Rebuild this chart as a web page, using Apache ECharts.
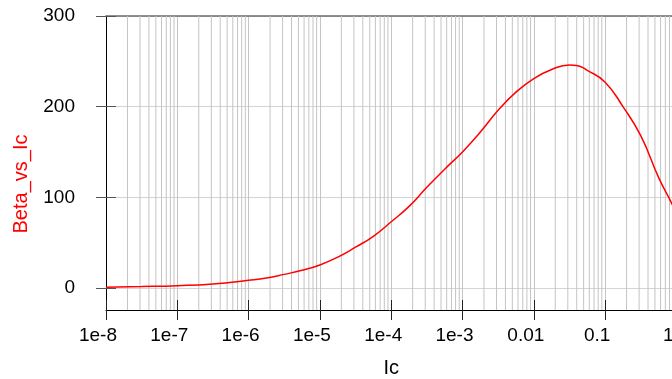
<!DOCTYPE html>
<html>
<head>
<meta charset="utf-8">
<script src="https://cdn.jsdelivr.net/npm/echarts@6/dist/echarts.min.js"></script>
<style>
html,body{margin:0;padding:0;background:#fff;}
#chart{width:672px;height:379px;}
</style>
</head>
<body>
<div id="chart"></div>
<script>
// Collector current Ic (A)
var icValues = [1e-8, 3.16e-8, 1e-7, 3.16e-7, 1e-6, 1.78e-6, 3.16e-6, 5.62e-6, 1e-5, 1.78e-5, 3.16e-5, 5.62e-5, 1e-4, 1.78e-4, 3.16e-4, 5.62e-4, 1e-3, 1.78e-3, 3.16e-3, 5.62e-3, 1e-2, 1.78e-2, 3.16e-2, 3.98e-2, 5.62e-2, 0.1, 0.178, 0.316, 0.562, 0.86, 1];
// Beta values
var betaValues = [0.8, 1.5, 2.5, 4.5, 8.5, 11, 15, 19.5, 25.4, 34, 45, 57, 73, 90, 111, 131, 150, 172, 196, 216, 231, 241, 246, 245.5, 240, 227, 200, 168, 122, 93.4, 83];
var xTickLabels = ['1e-8', '1e-7', '1e-6', '1e-5', '1e-4', '1e-3', '0.01', '0.1', '1'];
var yTickValues = [0, 100, 200, 300];
var xName = 'Ic';
var yName = 'Beta_vs_Ic';
var yMin = -24.3, yMax = 300;

var minorGrid = [];
for (var e = -8; e < 0; e++) {
  for (var k = 2; k <= 9; k++) {
    minorGrid.push([k * Math.pow(10, e)]);
  }
}

var font = '"Liberation Sans", Arial, Helvetica, sans-serif';
var chart = echarts.init(document.getElementById('chart'), null, { renderer: 'canvas' });
chart.setOption({
  animation: false,
  backgroundColor: '#ffffff',
  grid: { left: 106, top: 16, width: 570.4, height: 294, containLabel: false, outerBoundsMode: 'none' },
  xAxis: [
    {
      type: 'log', logBase: 10, min: 1e-8, max: 1, position: 'bottom',
      name: xName, nameLocation: 'middle', nameGap: 48,
      nameTextStyle: { fontSize: 20, color: '#000', fontFamily: font },
      axisLine: { show: true, onZero: false, lineStyle: { color: '#000', width: 1 } },
      axisTick: { show: true, inside: false, length: 10, lineStyle: { color: '#222' } },
      axisLabel: {
        fontSize: 19, color: '#000', fontFamily: font, margin: 16, padding: [0, 16, 0, 0],
        showMinLabel: true, showMaxLabel: true,
        formatter: function (v) {
          var i = Math.round(Math.log(v) / Math.LN10) + 8;
          return xTickLabels[i] !== undefined ? xTickLabels[i] : '';
        }
      },
      splitLine: { show: true, lineStyle: { color: '#c4c4c4', width: 1 } }
    },
    {
      type: 'log', logBase: 10, min: 1e-8, max: 1, position: 'bottom',
      axisLine: { show: false, onZero: false },
      axisTick: { show: true, inside: true, length: 10, lineStyle: { color: '#222' } },
      axisLabel: { show: false },
      splitLine: { show: false }
    },
    {
      type: 'log', logBase: 10, min: 1e-8, max: 1, position: 'top',
      axisLine: { show: true, onZero: false, lineStyle: { color: '#6e6e6e', width: 1.5 } },
      axisTick: { show: false },
      axisLabel: { show: false },
      splitLine: { show: false }
    }
  ],
  yAxis: [
    {
      type: 'value', min: yMin, max: yMax, position: 'left',
      axisLine: { show: true, onZero: false, lineStyle: { color: '#000', width: 1 } },
      axisTick: { show: true, inside: false, length: 10, customValues: yTickValues, lineStyle: { color: '#555' } },
      axisLabel: { fontSize: 19, color: '#000', fontFamily: font, margin: 31, padding: [11, 0, 0, 0], customValues: yTickValues },
      splitLine: { show: true, lineStyle: { color: '#d4d4d4', width: 1 } }
    },
    {
      type: 'value', min: yMin, max: yMax, position: 'left',
      axisLine: { show: false, onZero: false },
      axisTick: { show: true, inside: true, length: 10, customValues: yTickValues, lineStyle: { color: '#555' } },
      axisLabel: { show: false },
      splitLine: { show: false }
    }
  ],
  graphic: [{
    type: 'text', x: 21, y: 184, rotation: Math.PI / 2,
    style: { text: yName, fill: '#ff0000', fontSize: 20, fontFamily: font, align: 'center', verticalAlign: 'middle' }
  }],
  series: [
    {
      type: 'custom', xAxisIndex: 0, yAxisIndex: 0, z: 1, silent: true,
      data: minorGrid,
      encode: { x: 0 },
      renderItem: function (params, api) {
        var v = api.value(0);
        var p1 = api.coord([v, yMax]);
        var p2 = api.coord([v, yMin]);
        return {
          type: 'line',
          shape: { x1: p1[0], y1: p1[1], x2: p2[0], y2: p2[1] },
          style: { stroke: '#c4c4c4', lineWidth: 1 }
        };
      }
    },
    {
      type: 'line', xAxisIndex: 0, yAxisIndex: 0, z: 5,
      data: icValues.map(function (x, i) { return [x, betaValues[i]]; }),
      smooth: 0.5, showSymbol: false, symbol: 'none',
      lineStyle: { color: '#ff0000', width: 1.5 },
      clip: true
    }
  ]
});
</script>
</body>
</html>
